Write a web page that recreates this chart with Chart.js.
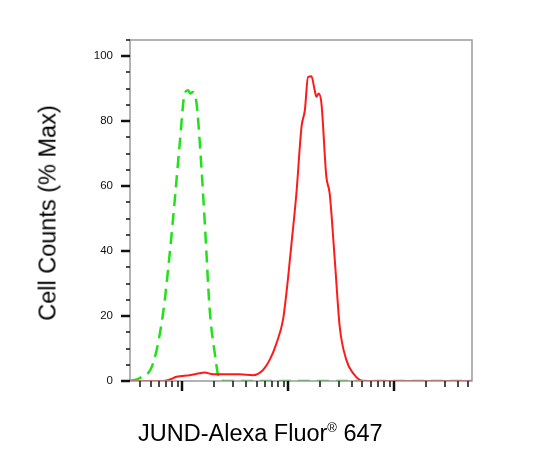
<!DOCTYPE html>
<html>
<head>
<meta charset="utf-8">
<script src="https://cdn.jsdelivr.net/npm/chart.js@4"></script>
<style>
  body { margin: 0; background: #fff; }
  #wrap { position: relative; width: 535px; height: 465px; }
  .axis-title { position: absolute; font-family: "Liberation Sans", Arial, sans-serif; font-size: 23.5px; color: #000; white-space: nowrap; }
  #yTitle { left: 48px; top: 213px; transform: translate(-50%, -50%) rotate(-90deg); }
  #xTitle { left: 138px; top: 420px; }
  #xTitle sup { font-size: 13px; vertical-align: 9px; line-height: 0; }
</style>
</head>
<body>
<div id="wrap">
  <canvas id="histo" width="535" height="465"></canvas>
  <div class="axis-title" id="yTitle">Cell Counts (% Max)</div>
  <div class="axis-title" id="xTitle">JUND-Alexa Fluor<sup>®</sup> 647</div>
</div>
<script>
// data (x = fluorescence, log scale; y = % max)
const stainedX = [3.2, 6.5, 7.5, 8.8, 11.7, 14.6, 16.2, 19.4, 34.7, 46.3, 57.6, 66.6, 77.1, 88.9, 95.7, 107, 119, 133, 143, 153, 165, 177, 184, 193, 205, 228, 245, 274, 305, 352, 407, 506, 5400];
const stainedY = [0, 0, 0.4, 1.3, 1.8, 2.4, 2.6, 2.1, 2.1, 1.8, 3.4, 6.5, 11.6, 18.8, 27, 42.4, 57.8, 78.3, 83.4, 93.6, 93.8, 89.5, 87.5, 88.5, 85.4, 62.9, 57.8, 37.2, 16.7, 6.5, 2.4, 0, 0];

const controlX = [3.2, 3.96, 5.28, 6.56, 7.59, 8.46, 9.43, 10.5, 11.3, 11.9, 12.6, 13.6, 14.6, 16.2, 18.1, 20.2, 22.5, 30, 5400];
const controlY = [0, 0.9, 5.4, 20.8, 39.3, 55.7, 73.1, 88.5, 89.5, 88.5, 89, 85.4, 73.1, 49.5, 21.8, 8.5, 0.2, 0, 0];

const yMajor = [0, 20, 40, 60, 80, 100];
const yMinor = [5, 10, 15, 25, 30, 35, 45, 50, 55, 65, 70, 75, 85, 90, 95, 105];
const xMajor = [10, 100, 1000];
const xMinor = [4, 5, 6, 7, 8, 9, 20, 30, 40, 50, 60, 70, 80, 90, 200, 300, 400, 500, 600, 700, 800, 900, 2000, 3000, 4000, 5000];

function pairs(xs, ys) {
  return xs.map((x, i) => ({ x: x, y: ys[i] }));
}

// box + tick marks, placed with the chart's own scales
const frame = {
  id: 'frame',
  afterDraw(chart) {
    const ctx = chart.ctx;
    const a = chart.chartArea;
    const xs = chart.scales.x, ys = chart.scales.y;
    ctx.save();
    ctx.strokeStyle = '#9a9a9a';
    ctx.lineWidth = 1.5;
    ctx.strokeRect(a.left, a.top, a.right - a.left, a.bottom - a.top);

    ctx.strokeStyle = '#111';
    ctx.lineWidth = 2.5;
    yMajor.forEach(v => {
      const y = Math.round(ys.getPixelForValue(v));
      ctx.beginPath(); ctx.moveTo(a.left - 9, y); ctx.lineTo(a.left, y); ctx.stroke();
    });
    xMajor.forEach(v => {
      const x = Math.round(xs.getPixelForValue(v));
      ctx.beginPath(); ctx.moveTo(x, a.bottom); ctx.lineTo(x, a.bottom + 10); ctx.stroke();
    });
    ctx.lineWidth = 1.5;
    yMinor.forEach(v => {
      const y = Math.round(ys.getPixelForValue(v));
      ctx.beginPath(); ctx.moveTo(a.left - 4, y); ctx.lineTo(a.left, y); ctx.stroke();
    });
    xMinor.forEach(v => {
      const x = Math.round(xs.getPixelForValue(v));
      ctx.beginPath(); ctx.moveTo(x, a.bottom); ctx.lineTo(x, a.bottom + 6); ctx.stroke();
    });
    ctx.restore();
  }
};

new Chart(document.getElementById('histo'), {
  type: 'line',
  data: {
    datasets: [{
      label: 'JUND',
      data: pairs(stainedX, stainedY),
      borderColor: '#ff1a1a',
      borderWidth: 2,
      pointRadius: 0,
      cubicInterpolationMode: 'monotone',
      fill: false
    }, {
      label: 'Control',
      data: pairs(controlX, controlY),
      borderColor: '#22e01a',
      borderWidth: 2.5,
      borderDash: [12, 7],
      pointRadius: 0,
      cubicInterpolationMode: 'monotone',
      fill: false
    }]
  },
  options: {
    responsive: false,
    animation: false,
    devicePixelRatio: 1,
    layout: { padding: { left: 0, top: 40, right: 63, bottom: 84 } },
    plugins: { legend: { display: false }, tooltip: { enabled: false } },
    scales: {
      x: {
        type: 'logarithmic',
        min: 3.2,
        max: 5400,
        display: false
      },
      y: {
        min: 0,
        max: 105,
        grid: { display: false },
        border: { display: false },
        afterFit(scale) { scale.width = 130; },
        afterBuildTicks(scale) { scale.ticks = yMajor.map(v => ({ value: v })); },
        ticks: {
          padding: 9,
          color: '#111',
          font: { family: 'Liberation Sans, Arial, sans-serif', size: 11.5 }
        }
      }
    }
  },
  plugins: [frame]
});
</script>
</body>
</html>
